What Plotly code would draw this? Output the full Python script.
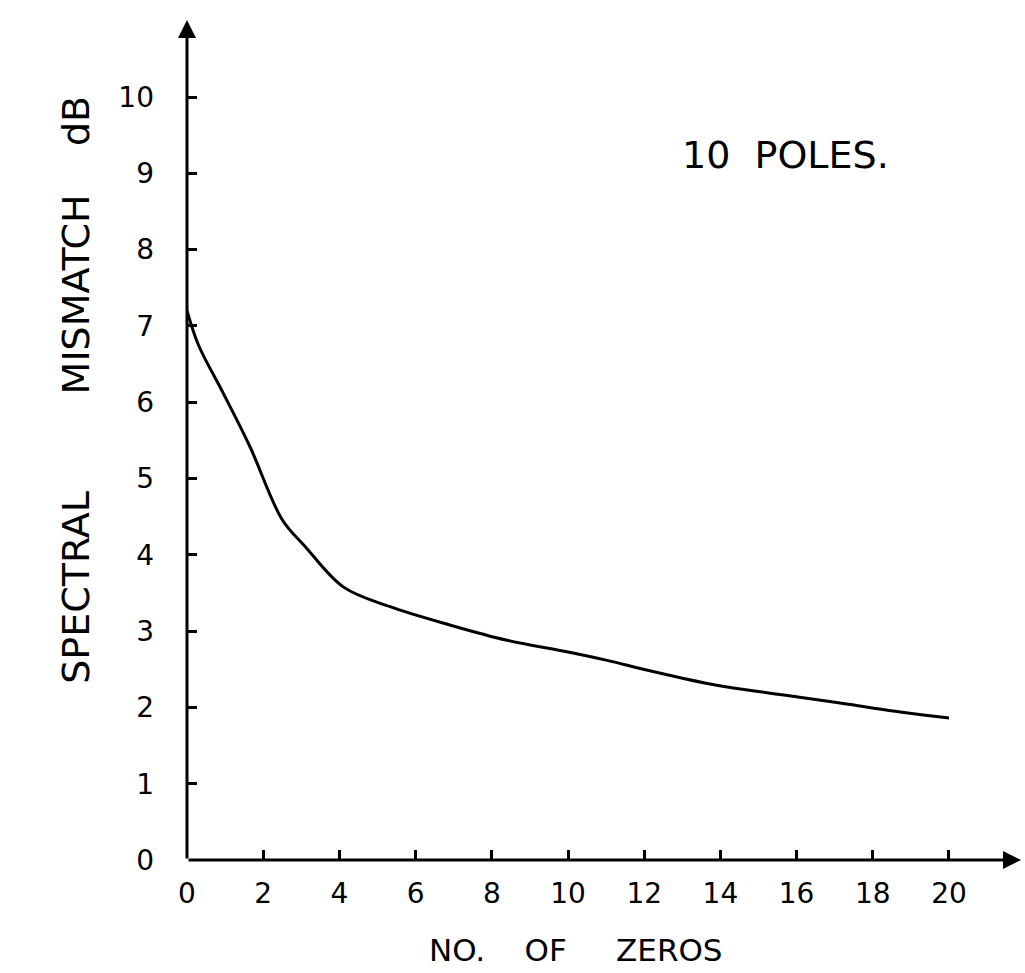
import plotly.graph_objects as go

# Data
zeros = [0, 0.3, 0.95, 1.65, 2.5, 3.1, 4.1, 5.33, 6.9, 8.4, 9.97, 11.0, 12.15,
         13.9, 15.4, 16.96, 18.72, 20.0]
mismatch_db = [7.2, 6.75, 6.12, 5.42, 4.46, 4.11, 3.58, 3.32, 3.08, 2.88, 2.73,
               2.62, 2.48, 2.29, 2.18, 2.07, 1.94, 1.86]

x_ticks = [0, 2, 4, 6, 8, 10, 12, 14, 16, 18, 20]
y_ticks = [0, 1, 2, 3, 4, 5, 6, 7, 8, 9, 10]

FONT = "DejaVu Sans"
X_MAX = 21.89
Y_MAX = 11.01

fig = go.Figure()
fig.add_trace(go.Scatter(
    x=zeros, y=mismatch_db, mode="lines",
    line=dict(color="black", width=3, shape="spline", smoothing=1.0),
    showlegend=False, hoverinfo="skip"))

fig.update_layout(
    width=1025, height=973,
    margin=dict(l=187, r=4, t=20, b=113),
    paper_bgcolor="white", plot_bgcolor="white",
    font=dict(family=FONT, color="black", size=28),
    xaxis=dict(range=[0, X_MAX], tickvals=x_ticks, ticktext=[str(v) for v in x_ticks],
               showgrid=False, zeroline=False, showline=False,
               ticks="inside", ticklen=10, tickwidth=3, tickcolor="black",
               ticklabelstandoff=14, tickfont=dict(size=28, family=FONT)),
    yaxis=dict(range=[0, Y_MAX], tickvals=y_ticks, ticktext=[str(v) for v in y_ticks],
               showgrid=False, zeroline=False, showline=False,
               ticks="inside", ticklen=10, tickwidth=3, tickcolor="black",
               ticklabelstandoff=32, tickfont=dict(size=28, family=FONT)),
)

# Axes drawn as arrows
fig.add_annotation(x=X_MAX, y=0, ax=0, ay=0, xref="x", yref="y", axref="x", ayref="y",
                   text="", showarrow=True, arrowhead=2, arrowsize=1.2, arrowwidth=3,
                   arrowcolor="black")
fig.add_annotation(x=0, y=Y_MAX, ax=0, ay=0, xref="x", yref="y", axref="x", ayref="y",
                   text="", showarrow=True, arrowhead=2, arrowsize=1.2, arrowwidth=3,
                   arrowcolor="black")

# Titles
fig.add_annotation(xref="paper", yref="paper", x=-0.134, y=0.56,
                   text="SPECTRAL        MISMATCH    dB", textangle=-90, showarrow=False,
                   font=dict(size=38, family=FONT), xanchor="center", yanchor="middle")
fig.add_annotation(xref="paper", yref="paper", x=0.466, y=-0.107,
                   text="NO.    OF     ZEROS", showarrow=False,
                   font=dict(size=31, family=FONT), xanchor="center", yanchor="middle")
fig.add_annotation(xref="x", yref="y", x=15.72, y=9.24,
                   text="10  POLES.", showarrow=False,
                   font=dict(size=38, family=FONT), xanchor="center", yanchor="middle")

fig.write_html("out.html")
